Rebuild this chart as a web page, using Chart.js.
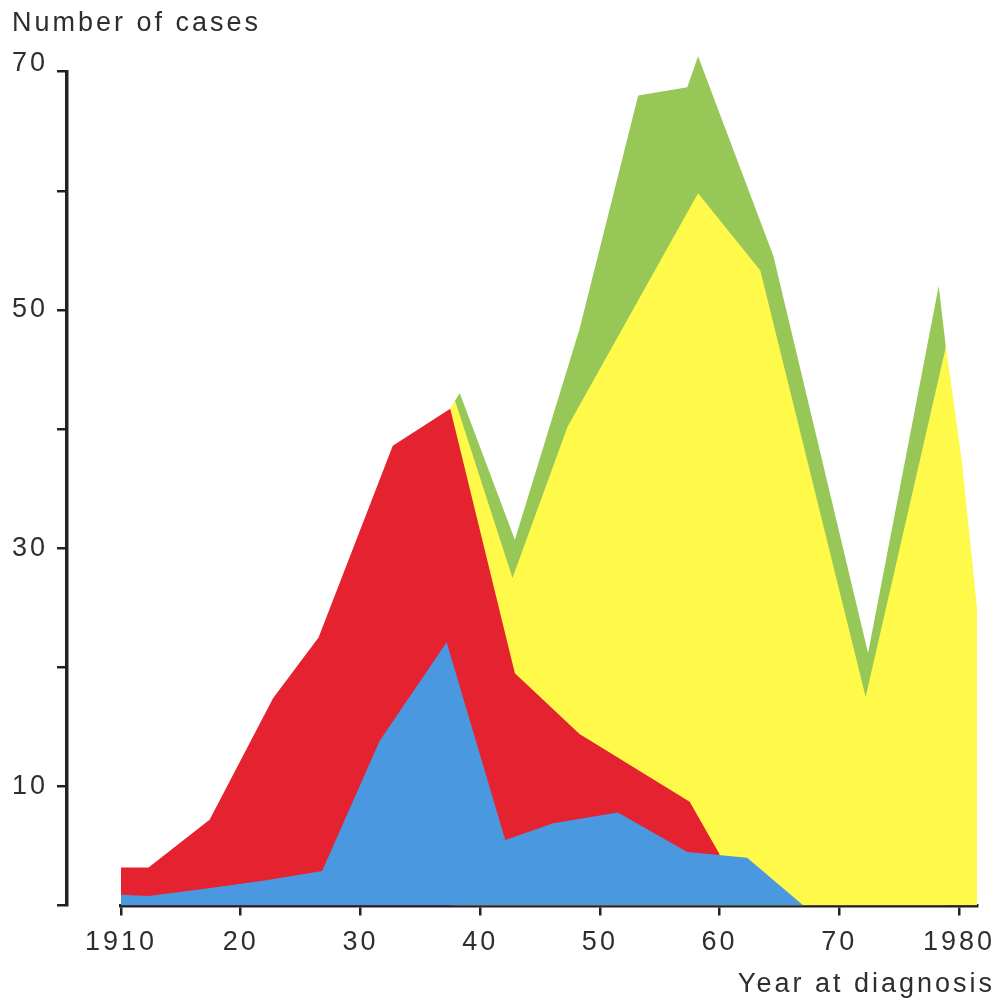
<!DOCTYPE html>
<html>
<head>
<meta charset="utf-8">
<script src="https://cdn.jsdelivr.net/npm/chart.js@4/dist/chart.umd.min.js"></script>
<style>
  html, body { margin: 0; padding: 0; background: #ffffff; }
  #wrap { width: 1007px; height: 1005px; position: relative; }
</style>
</head>
<body>
<div id="wrap"><canvas id="c"></canvas></div>
<script>
// ---- Data (top edge of each coloured band, number of cases) ----
const blueYears   = [1910, 1912.3, 1917, 1922, 1926.8, 1931.6, 1937.2, 1942.1, 1946.1, 1951.5, 1957.3, 1962.3, 1967.0];
const blueCases   = [0.9, 0.8, 1.4, 2.1, 2.9, 13.8, 22.1, 5.5, 6.9, 7.8, 4.5, 4.0, 0];

const redYears    = [1910, 1912.3, 1917.4, 1922.7, 1926.5, 1932.7, 1937.5, 1942.9, 1948.3, 1957.5, 1960.0];
const redCases    = [3.2, 3.2, 7.2, 17.4, 22.5, 38.6, 41.7, 19.5, 14.4, 8.7, 4.3];

const yellowYears = [1937.5, 1937.9, 1942.7, 1947.3, 1958.2, 1963.4, 1972.2, 1978.9, 1980.2, 1981.5];
const yellowCases = [41.7, 42.4, 27.5, 40.2, 59.8, 53.3, 17.5, 46.9, 37.6, 25.0];

const greenYears  = [1937.9, 1938.3, 1942.9, 1948.3, 1953.2, 1957.3, 1958.2, 1964.5, 1972.4, 1978.3, 1978.9];
const greenCases  = [42.4, 43.0, 30.7, 48.4, 68.0, 68.7, 71.3, 54.5, 21.2, 52.0, 46.9];

const xTickYears  = [1910, 1920, 1930, 1940, 1950, 1960, 1970, 1980];
const xTickLabels = ['1910', '20', '30', '40', '50', '60', '70', '1980'];
const yLabelled   = [10, 30, 50, 70];
const yTopLabel   = 70;

const toPoints = (xs, ys) => xs.map((x, i) => ({ x: x, y: ys[i] }));

const FONT = 'Liberation Sans, Arial, Helvetica, sans-serif';
const INK = '#2e2e2e';

const spacingPlugin = {
  id: 'spacing',
  beforeLayout(chart) { chart.ctx.letterSpacing = '3px'; },
  beforeDraw(chart) { chart.ctx.letterSpacing = '3px'; }
};

// let the peak above 70 show (the reference draws it above the axis top)
const overflowPlugin = {
  id: 'overflowTop',
  beforeDatasetsDraw(chart) { chart.$savedTop = chart.chartArea.top; chart.chartArea.top = 0; },
  afterDatasetsDraw(chart) { chart.chartArea.top = chart.$savedTop; }
};

const area = (label, xs, ys, color, extra) => Object.assign({
  label: label,
  data: toPoints(xs, ys),
  yAxisID: 'y',
  xAxisID: 'x',
  backgroundColor: color,
  borderWidth: 0,
  pointRadius: 0,
  tension: 0,
  fill: 'origin'
}, extra || {});

new Chart(document.getElementById('c'), {
  type: 'line',
  data: {
    datasets: [
      area('blue', blueYears, blueCases, '#4a98e0'),
      area('red', redYears, redCases, '#e5222f'),
      area('yellow', yellowYears, yellowCases, '#fffa4a'),
      area('green', greenYears, greenCases, '#97c857', { clip: false })
    ]
  },
  plugins: [spacingPlugin, overflowPlugin],
  options: {
    responsive: true,
    maintainAspectRatio: false,
    animation: false,
    events: [],
    layout: { padding: { left: 12, right: 12, top: 0, bottom: 0 } },
    plugins: {
      legend: { display: false },
      tooltip: { enabled: false },
      title: {
        display: true,
        text: 'Number of cases',
        align: 'start',
        color: INK,
        font: { family: FONT, size: 27, weight: 'normal' },
        padding: { top: 7, bottom: 32.3 }
      },
      subtitle: {
        display: true,
        position: 'bottom',
        text: 'Year at diagnosis',
        align: 'end',
        color: INK,
        font: { family: FONT, size: 27, weight: 'normal' },
        padding: { top: 9, bottom: 4.7 }
      }
    },
    scales: {
      x: {
        type: 'linear',
        position: 'bottom',
        min: 1910,
        max: 1981.5,
        z: 1,
        afterBuildTicks(scale) { scale.ticks = xTickYears.map(v => ({ value: v })); },
        afterFit(scale) { scale.height = 53.4; },
        ticks: {
          autoSkip: false,
          maxRotation: 0,
          padding: 11,
          color: INK,
          font: { family: FONT, size: 27 },
          callback(value) {
            const i = xTickYears.indexOf(value);
            return i >= 0 ? xTickLabels[i] : '';
          }
        },
        grid: { drawOnChartArea: false, drawTicks: true, tickLength: 10, color: '#222', lineWidth: 2.5 },
        border: { display: true, color: '#222', width: 3.5 }
      },
      y: {
        type: 'linear',
        position: 'left',
        weight: 10,
        min: 0,
        max: 70,
        afterFit(scale) { scale.width = 55; },
        ticks: {
          stepSize: 10,
          padding: 9,
          color: INK,
          font(ctx) {
            const top = ctx.tick && ctx.tick.value === yTopLabel;
            return { family: FONT, size: 27, lineHeight: top ? 0.6 : 1.2 };
          },
          callback(value) {
            if (value === yTopLabel) return [String(value), ''];
            return yLabelled.includes(value) ? String(value) : '';
          }
        },
        grid: { drawOnChartArea: false, drawTicks: true, tickLength: 10, color: '#222', lineWidth: 2.5 },
        border: { display: true, color: '#222', width: 3.5 }
      },
      yPad: {
        type: 'linear',
        position: 'left',
        weight: 0,
        display: true,
        afterFit(scale) { scale.width = 54; },
        ticks: { display: false },
        grid: { display: false, drawTicks: false },
        border: { display: false }
      },
      yRight: {
        type: 'linear',
        position: 'right',
        display: true,
        afterFit(scale) { scale.width = 18; },
        ticks: { display: false },
        grid: { display: false, drawTicks: false },
        border: { display: false }
      }
    }
  }
});
</script>
</body>
</html>
